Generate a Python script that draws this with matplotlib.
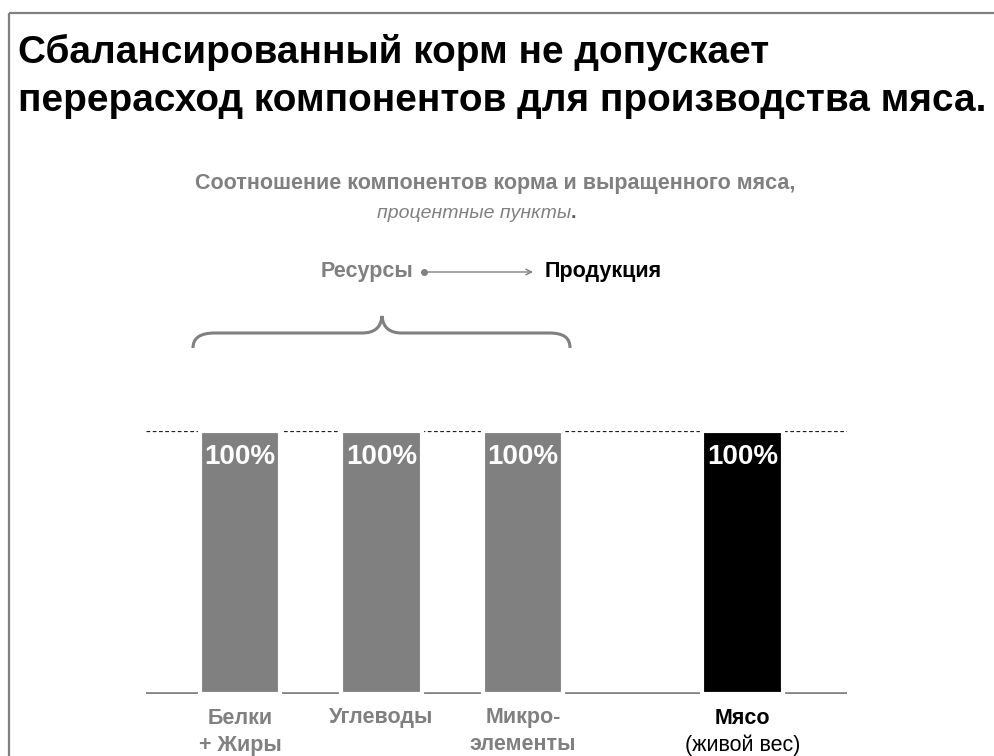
import matplotlib
matplotlib.use('Agg')
import matplotlib.pyplot as plt
from matplotlib.path import Path
from matplotlib.patches import PathPatch
from matplotlib.transforms import blended_transform_factory

# ---- data ----
categories = ['Белки\n+ Жиры', 'Углеводы', 'Микро-\nэлементы', 'Мясо']
values = [100, 100, 100, 100]
bar_labels = ['100%', '100%', '100%', '100%']
title_lines = ['Сбалансированный корм не допускает',
               'перерасход компонентов для производства мяса.']
subtitle = 'Соотношение компонентов корма и выращенного мяса,'
subtitle2 = 'процентные пункты'
flow_from = 'Ресурсы'
flow_to = 'Продукция'
meat_note = '(живой вес)'

GRAY = '#808080'
plt.rcParams['font.family'] = ['Liberation Sans', 'DejaVu Sans']

W, H = 994, 756
fig = plt.figure(figsize=(W / 100, H / 100), dpi=100)
fig.patch.set_facecolor('white')
r = fig.canvas.get_renderer()


def fit(t, width_px):
    w = t.get_window_extent(r).width
    t.set_fontsize(t.get_fontsize() * width_px / w)
    return t.get_fontsize()


# overlay in pixel coordinates (y downwards)
ov = fig.add_axes([0, 0, 1, 1])
ov.set_xlim(0, W)
ov.set_ylim(H, 0)
ov.axis('off')
ov.patch.set_visible(False)

# main axes
x0_px, x1_px = 146, 847
base_px, top_px = 694, 431
unit_px = 141.5
c0_px = 240
ax = fig.add_axes([x0_px / W, (H - base_px) / H, (x1_px - x0_px) / W, (base_px - top_px) / H])
ax.patch.set_visible(False)
ax.set_xlim((x0_px - c0_px) / unit_px, (x1_px - c0_px) / unit_px)
ax.set_ylim(0, 100)
ax.axis('off')

xpos = [0, 1, 2, 3.551]
colors = [GRAY, GRAY, GRAY, 'black']
ax.axhline(0, color=GRAY, lw=2.6, zorder=1, solid_capstyle='butt')
ax.axhline(100, color='#222222', lw=0.9, ls=(0, (3, 2)), zorder=1)
ax.bar(xpos, values, width=0.566, color=colors, edgecolor='white', linewidth=3, zorder=3)

for x, v, lab in zip(xpos, values, bar_labels):
    ax.annotate(lab, xy=(x, v), xytext=(0, -9), textcoords='offset points',
                ha='center', va='top', color='white', fontsize=20, fontweight='bold', zorder=4)

# category labels (x from data, y in pixels)
tr = blended_transform_factory(ax.transData, ov.transData)
cfs = 15.5
for i, (x, cat) in enumerate(zip(xpos, categories)):
    if i < 3:
        lines = cat.split('\n')
        for j, ln in enumerate(lines):
            ax.text(x, 718 + 27 * j, ln, transform=tr, ha='center', va='center', color=GRAY,
                    fontsize=cfs, fontweight='bold')
    else:
        ax.text(x, 718, cat, transform=tr, ha='center', va='center', color='black',
                fontsize=cfs, fontweight='bold')
        ax.text(x, 745, meat_note, transform=tr, ha='center', va='center', color='black',
                fontsize=cfs)

# border
ov.plot([9, W], [13, 13], color=GRAY, lw=1.6, clip_on=False, solid_capstyle='butt')
ov.plot([9, 9], [13, H], color=GRAY, lw=1.6, clip_on=False, solid_capstyle='butt')

# title, fit width
t1 = ov.text(18, 63, title_lines[0], ha='left', va='baseline', fontsize=26, fontweight='bold',
             color='black')
t2 = ov.text(18, 111, title_lines[1], ha='left', va='baseline', fontsize=26, fontweight='bold',
             color='black')
fs = fit(t2, 985 - 18)
t1.set_fontsize(fs)

# subtitle
ov.text(495, 183, subtitle, ha='center', va='center', fontsize=15.5, fontweight='bold',
        color=GRAY)
s2 = ov.text(474, 214, subtitle2, ha='center', va='center', fontsize=14, style='italic',
             color=GRAY)
ov.annotate('.', xy=(1, 0), xycoords=s2, ha='left', va='bottom', fontsize=14,
            fontweight='bold', color='#555555')

# flow
ov.text(413, 272, flow_from, ha='right', va='center', fontsize=15.5, fontweight='bold',
        color=GRAY)
ov.annotate('', xy=(533, 272), xytext=(424, 272),
            arrowprops=dict(arrowstyle='->', color=GRAY, lw=1.0, shrinkA=0, shrinkB=0))
ov.plot([424], [272], 'o', color=GRAY, ms=4)
ov.text(545, 272, flow_to, ha='left', va='center', fontsize=15.5, fontweight='bold',
        color='black')

# brace
verts = [(193, 348), (193, 338), (200, 333), (215, 333),
         (362, 333),
         (374, 333), (381, 328), (382, 316),
         (383, 328), (390, 333), (402, 333),
         (549, 333),
         (564, 333), (570, 338), (570, 348)]
codes = [Path.MOVETO, Path.CURVE4, Path.CURVE4, Path.CURVE4,
         Path.LINETO,
         Path.CURVE4, Path.CURVE4, Path.CURVE4,
         Path.CURVE4, Path.CURVE4, Path.CURVE4,
         Path.LINETO,
         Path.CURVE4, Path.CURVE4, Path.CURVE4]
ov.add_patch(PathPatch(Path(verts, codes), facecolor='none', edgecolor=GRAY, lw=2.2))

fig.savefig('out.png', dpi=100, facecolor='white')
